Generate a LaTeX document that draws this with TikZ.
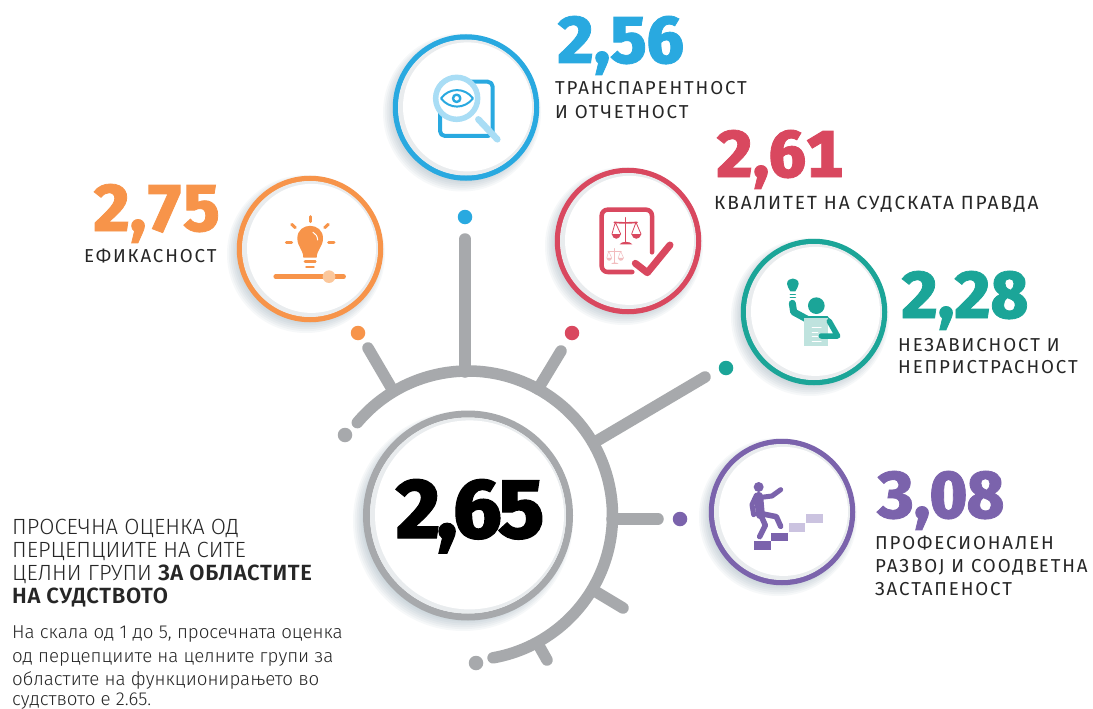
\documentclass[tikz,border=0pt]{standalone}
\usepackage{fontspec}
\setmainfont{Fira Sans}
\newfontfamily\numfont[FakeBold=1.2,Numbers=Monospaced]{Fira Sans ExtraBold}
\newfontfamily\corefont[LetterSpace=-4,FakeBold=1.2]{Fira Sans ExtraBold}
\newfontfamily\capfont[LetterSpace=10]{Fira Sans}
\newfontfamily\headfont{Fira Sans Light}
\newfontfamily\headbold[LetterSpace=3]{Fira Sans SemiBold}
\newfontfamily\bodyfont{Fira Sans Light}
\definecolor{cblue}{HTML}{29A9E0}
\definecolor{cblueL}{HTML}{A9DDF5}
\definecolor{corange}{HTML}{F7944A}
\definecolor{corangeL}{HTML}{FBC79B}
\definecolor{cred}{HTML}{D9485F}
\definecolor{credL}{HTML}{F2BDBF}
\definecolor{cteal}{HTML}{1BA598}
\definecolor{ctealL}{HTML}{BFE3DE}
\definecolor{cpurple}{HTML}{7B63AC}
\definecolor{cpurpleL}{HTML}{CBC3E0}
\definecolor{cgray}{HTML}{A7A9AC}
\definecolor{cshadow}{HTML}{6E8A99}
\definecolor{cinner}{HTML}{E9ECEE}
\tikzset{
  x=1pt,y=-1pt,
  numlabel/.style={anchor=base west,inner sep=0pt,font=\numfont\fontsize{66}{66}\selectfont},
  caplabel/.style={anchor=base west,inner sep=0pt,font=\capfont\fontsize{18.7}{18.7}\selectfont,text=black!85},
  headline/.style={anchor=base west,inner sep=0pt,font=\headfont\fontsize{22}{22}\selectfont,text=black!85},
  bodyline/.style={anchor=base west,inner sep=0pt,font=\bodyfont\fontsize{18.7}{18.7}\selectfont,text=black!85},
  blob/.style={circle,inner sep=0pt,minimum size=#1,fill},
  spoke/.style={cgray,line width=11.5pt,line cap=round},
  ringnode/.style={circle,inner sep=0pt,minimum size=#1,line width=5.5pt},
  ic/.style={line cap=round,line join=round},
}
\newcommand{\softshadow}[3]{% x y r
  \foreach \k in {0,2,...,14}{
    \fill[cshadow,opacity=.06] (#1-4+\k*0.12,#2+5-\k*0.15) circle[radius=#3+7-\k*0.8];
  }
}
\newcommand{\innerglow}[3]{% x y r : pale crescent inside the ring
  \fill[cinner] (#1,#2) circle[radius=#3];
  \fill[white] (#1+1.5,#2-0.6) circle[radius=#3-3.5];
}
\newcommand{\satellite}[4]{% name x y colour
  \softshadow{#2}{#3}{72}
  \node[ringnode=141pt,draw=#4,fill=white] (#1) at (#2,#3) {};
  \innerglow{#2}{#3}{68}
}
\begin{document}
\begin{tikzpicture}
\useasboundingbox (0,0) rectangle (1093,709);
\fill[white] (0,0) rectangle (1093,709);

% ---- central hub
\coordinate (hub) at (468,515.5);
\draw[spoke,line cap=round] (hub) ++(-140:144.5) arc[start angle=-140,end angle=80,radius=144.5];
\softshadow{467}{516}{103}
\node[ringnode=203pt,draw=cgray,line width=7pt,fill=white] (core) at (hub) {};
\innerglow{468}{515.5}{98}
\node[font=\corefont\fontsize{85}{85}\selectfont,inner sep=0pt,anchor=base] (value) at (470,538) {2,65};

% ---- spokes (from free named ends to the rim)
\coordinate (sA1) at (465,239); \coordinate (sA2) at (465,372);
\coordinate (sB1) at (368,348); \coordinate (sB2) at (392,389);
\coordinate (sC1) at (561,351); \coordinate (sC2) at (538,389);
\coordinate (sD1) at (705,377); \coordinate (sD2) at (595,442);
\coordinate (sE1) at (658,519); \coordinate (sE2) at (612,519);
\coordinate (sF1) at (623,608); \coordinate (sF2) at (593,590);
\coordinate (sG1) at (547,660); \coordinate (sG2) at (538,644);
\foreach \n in {A,B,C,D,E,F,G}{\draw[spoke] (s\n1) -- (s\n2);}

% ---- dots
\node[blob=14.5pt,cblue]   (dA) at (465,217) {};
\node[blob=14.5pt,corange] (dB) at (358,333) {};
\node[blob=14.5pt,cred]    (dC) at (572,333) {};
\node[blob=14.5pt,cteal]   (dD) at (726,368) {};
\node[blob=14.5pt,cpurple] (dE) at (680,519) {};
\node[blob=14.5pt,cgray]   (dF) at (345,435) {};
\node[blob=14.5pt,cgray]   (dG) at (476,663) {};

% ---- satellite circles
\satellite{cA}{466}{107.5}{cblue}
\satellite{cB}{310}{249}{corange}
\satellite{cC}{628}{241}{cred}
\satellite{cD}{814}{312}{cteal}
\satellite{cE}{782}{512}{cpurple}

% ---- icon: magnifier and eye
\begin{scope}[shift={(390,30)},scale=1/3,ic]
  \draw[cblue,line width=4pt,rounded corners=5pt] (150,155) rectangle (308,318);
  \draw[cblueL,line width=6.5pt] (265,268) -- (322,328);
  \fill[white] (200,205) circle[radius=64];
  \draw[cblueL,line width=5.5pt] (200,205) circle[radius=63];
  \draw[cblue,line width=2pt] (153,205) .. controls (178,172) and (224,172) .. (249,205) .. controls (224,238) and (178,238) .. (153,205) -- cycle;
  \draw[cblue,line width=2.4pt] (200,205) circle[radius=11];
\end{scope}

% ---- icon: bulb and slider
\begin{scope}[shift={(235,175)},scale=1/3,ic]
  \fill[corange] (205,248) -- (245,248) .. controls (245,225) and (264,215) .. (264,190) .. controls (264,140) and (187,140) .. (187,190) .. controls (187,215) and (205,225) .. (205,248) -- cycle;
  \draw[white,line width=1pt] (234,172) .. controls (243,176) and (247,184) .. (248,195);
  \draw[corange,line width=2.6pt] (210,259) -- (241,259);
  \draw[corange,line width=2.6pt] (214,276) -- (236,276);
  \draw[corange,line width=3pt] (225,125) -- (225,140);
  \draw[corange,line width=3pt] (170,148) -- (181,158);
  \draw[corange,line width=3pt] (280,148) -- (269,158);
  \draw[corange,line width=3pt] (154,202) -- (170,202);
  \draw[corange,line width=3pt] (281,202) -- (297,202);
  \draw[corange,line width=4.5pt] (122,305) -- (326,305);
  \fill[corangeL] (282,305) circle[radius=19];
\end{scope}

% ---- icon: scales on a sheet, tick
\begin{scope}[shift={(553,165)},scale=1/3,ic]
  \draw[cred,line width=4.5pt,rounded corners=6pt] (238,321) -- (146,321) -- (146,134) -- (297,134) -- (297,262);
  \draw[cred,line width=1.6pt] (218,158) -- (218,234);
  \draw[cred,line width=1.6pt] (184,172) .. controls (200,174) and (236,174) .. (252,172);
  \draw[cred,line width=0.8pt] (187,172) -- (177,207) (187,172) -- (203,207) (249,172) -- (236,207) (249,172) -- (264,207);
  \fill[cred] (176,207) .. controls (180,226) and (200,226) .. (204,207) -- cycle;
  \fill[cred] (235,207) .. controls (239,226) and (261,226) .. (265,207) -- cycle;
  \fill[cred] (200,238) .. controls (205,228) and (232,228) .. (238,238) -- cycle;
  \begin{scope}[shift={(185,272)},scale=.58,shift={(-218,-195)}]
    \draw[credL,line width=.8pt] (218,158) -- (218,234);
    \draw[credL,line width=.8pt] (184,172) -- (252,172);
    \draw[credL,line width=.5pt] (187,172) -- (177,207) (187,172) -- (203,207) (249,172) -- (236,207) (249,172) -- (264,207);
    \fill[credL] (176,207) .. controls (180,226) and (200,226) .. (204,207) -- cycle;
    \fill[credL] (235,207) .. controls (239,226) and (261,226) .. (265,207) -- cycle;
    \fill[credL] (200,238) .. controls (205,228) and (232,228) .. (238,238) -- cycle;
  \end{scope}
  \draw[cred,line width=7pt] (247,295) -- (283,323) -- (351,240);
\end{scope}

% ---- icon: figure with bulb and sheet
\begin{scope}[shift={(740,238)},scale=1/3,ic]
  \fill[cteal] (151,160) .. controls (148,150) and (141,148) .. (141,138) .. controls (141,116) and (176,116) .. (176,138) .. controls (176,148) and (169,150) .. (166,160) -- cycle;
  \draw[cteal,line width=1.4pt] (151,170) -- (166,170) (151,178) -- (166,178);
  \fill[cteal] (229,203) circle[radius=25];
  \draw[cteal,line width=7pt] (157,196) -- (161,222) -- (200,243);
  \fill[cteal] (196,234) -- (262,234) -- (272,245) -- (196,250) -- cycle;
  \fill[ctealL] (193,240) rectangle (263,325);
  \draw[white,line width=1.4pt] (217,268) -- (243,268) (217,283) -- (233,283) (217,296) -- (233,296) (217,310) -- (243,310);
  \draw[cteal,line width=5.5pt] (268,250) -- (293,294) -- (244,294);
\end{scope}

% ---- icon: climber on steps
\begin{scope}[shift={(708,438)},scale=1/3,ic]
  \fill[cpurple] (152,147) circle[radius=15];
  \draw[cpurple,line width=9pt] (152,175) -- (157,230);
  \draw[cpurple,line width=5pt] (145,172) -- (132,200) -- (137,230);
  \draw[cpurple,line width=5pt] (160,178) -- (192,174) -- (218,155);
  \draw[cpurple,line width=5.5pt] (160,235) -- (172,262) -- (155,296);
  \draw[cpurple,line width=5.5pt] (165,228) -- (205,236) -- (218,265);
  \fill[cpurple] (138,310) rectangle (188,336);
  \fill[cpurple] (190,284) rectangle (240,310);
  \fill[cpurpleL] (242,255) rectangle (292,281);
  \fill[cpurpleL] (294,228) rectangle (344,254);
\end{scope}

% ---- values and captions
\node[numlabel,text=cblue]   (vA) at (557,63)  {2,56};
\node[caplabel] (lA1) at (555,95)  {ТРАНСПАРЕНТНОСТ};
\node[caplabel] (lA2) at (555,118) {И ОТЧЕТНОСТ};
\node[numlabel,text=cred]    (vC) at (716,177) {2,61};
\node[caplabel,font=\capfont\fontsize{19.1}{19.1}\selectfont] (lC1) at (714,209) {КВАЛИТЕТ НА СУДСКАТА ПРАВДА};
\node[numlabel,text=corange] (vB) at (93,231)  {2,75};
\node[caplabel] (lB1) at (84,262)  {ЕФИКАСНОСТ};
\node[numlabel,text=cteal]   (vD) at (901,318) {2,28};
\node[caplabel] (lD1) at (898,351) {НЕЗАВИСНОСТ И};
\node[caplabel] (lD2) at (898,373) {НЕПРИСТРАСНОСТ};
\node[numlabel,text=cpurple] (vE) at (877,518) {3,08};
\node[caplabel] (lE1) at (875,549) {ПРОФЕСИОНАЛЕН};
\node[caplabel] (lE2) at (875,572) {РАЗВОЈ И СООДВЕТНА};
\node[caplabel] (lE3) at (875,595) {ЗАСТАПЕНОСТ};

% ---- left text
\node[headline] (h1) at (12,534) {ПРОСЕЧНА ОЦЕНКА ОД};
\node[headline] (h2) at (12,557) {ПЕРЦЕПЦИИТЕ НА СИТЕ};
\node[headline] (h3) at (12,580) {ЦЕЛНИ ГРУПИ {\headbold ЗА ОБЛАСТИТЕ}};
\node[headline] (h4) at (12,603) {\headbold НА СУДСТВОТО};
\node[bodyline] (b1) at (12,638) {На скала од 1 до 5, просечната оценка};
\node[bodyline] (b2) at (12,662) {од перцепциите на целните групи за};
\node[bodyline] (b3) at (12,685) {областите на функционирањето во};
\node[bodyline] (b4) at (12,705) {судството е 2.65.};
\end{tikzpicture}
\end{document}
